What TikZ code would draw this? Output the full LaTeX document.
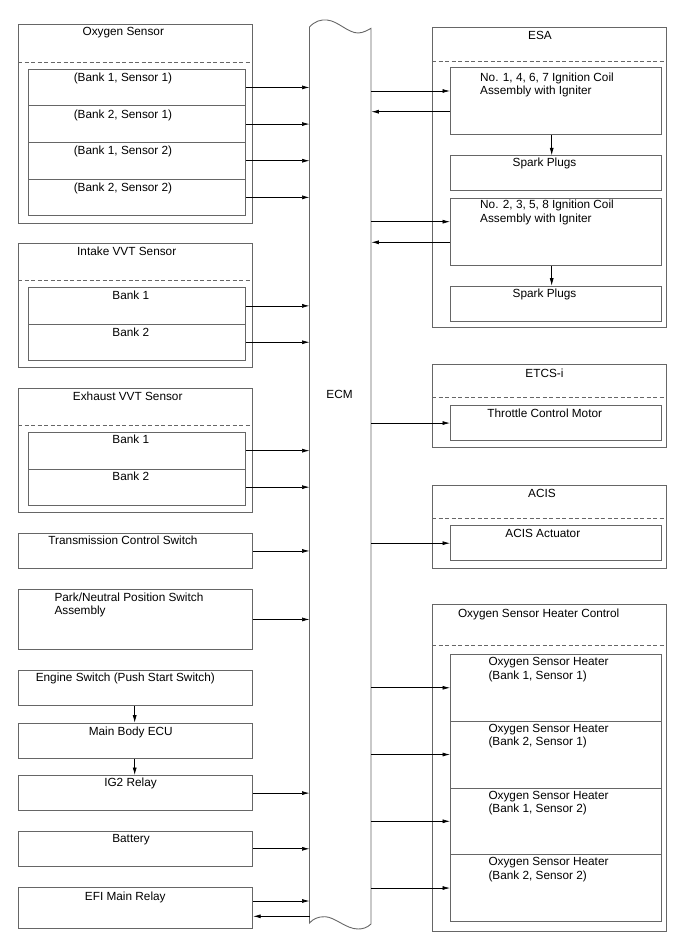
\documentclass[tikz,border=0pt]{standalone}
\usepackage{fontspec}
\setmainfont{Liberation Sans}
\usetikzlibrary{arrows.meta}

\begin{document}
\begin{tikzpicture}[x=1pt, y=-1pt, font=\fontsize{11.8}{13.3}\selectfont, >={Latex[length=7.5pt,width=4pt]},
      grp/.style={draw=black!60, line width=0.9pt, inner sep=0, anchor=north west, minimum width=234.1},
      unit/.style={grp, line width=0.8pt, minimum width=217},
      runit/.style={unit, minimum width=211},
      body/.style={draw=black!60, line width=0.9pt},
      sep/.style={draw=black!60, line width=0.8pt, dash pattern=on 4pt off 2.5pt},
      lbl/.style={anchor=base, inner sep=0},
      lbll/.style={anchor=base west, inner sep=0, align=left},
      sig/.style={->, line width=0.7pt}]
    \useasboundingbox (0,0) rectangle (688,949);

    \node[grp, minimum height=198.4] (o2) at (18.2,24.3) {};
    \draw[sep] (18.2,62) -- (252.3,62);
    \node[lbl] (o2t) at (123.3,35.7) {Oxygen Sensor};
    \node[unit, minimum height=36.65] (o2a) at (28.3,68.7) {};
    \node[unit, minimum height=36.65] (o2b) at (28.3,105.35) {};
    \node[unit, minimum height=36.65] (o2c) at (28.3,142) {};
    \node[unit, minimum height=36.65] (o2d) at (28.3,178.65) {};
    \node[lbl] (o2at) at (123,81.7) {(Bank 1, Sensor 1)};
    \node[lbl] (o2bt) at (123,118.4) {(Bank 2, Sensor 1)};
    \node[lbl] (o2ct) at (123,155) {(Bank 1, Sensor 2)};
    \node[lbl] (o2dt) at (123,191.7) {(Bank 2, Sensor 2)};

    \node[grp, minimum height=123.4] (in) at (18.2,243.3) {};
    \draw[sep] (18.2,280.7) -- (252.3,280.7);
    \node[lbl] (int) at (126.7,255.7) {Intake VVT Sensor};
    \node[unit, minimum height=36.35] (ina) at (28.3,287.3) {};
    \node[unit, minimum height=36.35] (inb) at (28.3,323.65) {};
    \node[lbl] (inat) at (130.8,299.3) {Bank 1};
    \node[lbl] (inbt) at (130.8,336.5) {Bank 2};

    \node[grp, minimum height=123.7] (ex) at (18.2,388.3) {};
    \draw[sep] (18.2,425.3) -- (252.3,425.3);
    \node[lbl] (ext) at (127.7,400.7) {Exhaust VVT Sensor};
    \node[unit, minimum height=36.5] (exa) at (28.3,432) {};
    \node[unit, minimum height=36.5] (exb) at (28.3,468.5) {};
    \node[lbl] (exat) at (130.8,443.5) {Bank 1};
    \node[lbl] (exbt) at (130.8,480.7) {Bank 2};

    \node[grp, minimum height=35.6] (tcs) at (18.2,532.7) {};
    \node[lbl] (tcst) at (123,544.3) {Transmission Control Switch};
    \node[grp, minimum height=60.6] (pnp) at (18.2,588.7) {};
    \node[lbll] (pnpt) at (54.3,614.3) {Park/Neutral Position Switch\\Assembly};
    \node[grp, minimum height=35.3] (eng) at (18.2,670) {};
    \node[lbl] (engt) at (125.3,681.7) {Engine Switch (Push Start Switch)};
    \node[grp, minimum height=35.6] (mb) at (18.2,722.7) {};
    \node[lbl] (mbt) at (130.8,735) {Main Body ECU};
    \node[grp, minimum height=35.3] (ig2) at (18.2,775) {};
    \node[lbl] (ig2t) at (130.5,786.7) {IG2 Relay};
    \node[grp, minimum height=35.3] (bat) at (18.2,830.7) {};
    \node[lbl] (batt) at (131,842.7) {Battery};
    \node[grp, minimum height=41.6] (efi) at (18.2,886.7) {};
    \node[lbl] (efit) at (125.3,900) {EFI Main Relay};

    \node[inner sep=0, minimum width=61.5, minimum height=896, anchor=north west] (ecm) at (309.5,27) {};
    \draw[body] (309.5,27) -- (309.5,923)
      .. controls (313,919) and (318,916.5) .. (325,916.7)
      .. controls (335,917) and (346,929) .. (358,929)
      .. controls (362,929) and (367,928) .. (371,924)
      -- (371,28.3)
      .. controls (368,30) and (363,33) .. (358,33)
      .. controls (348,33) and (338,21) .. (327,20)
      .. controls (321,19.5) and (315,21) .. cycle;
    \node[lbl] (ecmt) at (339.5,398.3) {ECM};

    \node[grp, minimum width=234, minimum height=300] (esa) at (432,27.3) {};
    \draw[sep] (432,61) -- (666,61);
    \node[lbl] (esat) at (540,39.3) {ESA};
    \node[runit, minimum height=67] (c1) at (450,67.3) {};
    \node[lbll] (c1t) at (480,95) {No. 1, 4, 6, 7 Ignition Coil\\Assembly with Igniter};
    \node[runit, minimum height=35] (sp1) at (450,155.3) {};
    \node[lbl] (sp1t) at (544.5,166.7) {Spark Plugs};
    \node[runit, minimum height=67.3] (c2) at (450,197.7) {};
    \node[lbll] (c2t) at (480,222.3) {No. 2, 3, 5, 8 Ignition Coil\\Assembly with Igniter};
    \node[runit, minimum height=35] (sp2) at (450,285.7) {};
    \node[lbl] (sp2t) at (544.5,297.3) {Spark Plugs};

    \node[grp, minimum width=234, minimum height=83] (etcs) at (432,364.3) {};
    \draw[sep] (432,397.7) -- (666,397.7);
    \node[lbl] (etcst) at (544.5,377.3) {ETCS-i};
    \node[runit, minimum height=34.7] (thr) at (450,405.3) {};
    \node[lbl] (thrt) at (544.7,417) {Throttle Control Motor};

    \node[grp, minimum width=234, minimum height=83.6] (acis) at (432,484.7) {};
    \draw[sep] (432,518) -- (666,518);
    \node[lbl] (acist) at (542,497) {ACIS};
    \node[runit, minimum height=35] (act) at (450,525.3) {};
    \node[lbl] (actt) at (542.8,537) {ACIS Actuator};

    \node[grp, minimum width=234, minimum height=326.4] (htr) at (432,604.3) {};
    \draw[sep] (432,645.3) -- (666,645.3);
    \node[lbl] (htrt) at (538.7,617.3) {Oxygen Sensor Heater Control};
    \node[runit, minimum height=66.75] (h1) at (450,654) {};
    \node[runit, minimum height=66.75] (h2) at (450,720.75) {};
    \node[runit, minimum height=66.75] (h3) at (450,787.5) {};
    \node[runit, minimum height=66.75] (h4) at (450,854.25) {};
    \node[lbll] (h1t) at (488.3,679) {Oxygen Sensor Heater\\(Bank 1, Sensor 1)};
    \node[lbll] (h2t) at (488.3,745.7) {Oxygen Sensor Heater\\(Bank 2, Sensor 1)};
    \node[lbll] (h3t) at (488.3,812.4) {Oxygen Sensor Heater\\(Bank 1, Sensor 2)};
    \node[lbll] (h4t) at (488.3,879.1) {Oxygen Sensor Heater\\(Bank 2, Sensor 2)};

    \draw[sig] (o2a.east) -- (o2a.east -| ecm.west);
    \draw[sig] (o2b.east) -- (o2b.east -| ecm.west);
    \draw[sig] (o2c.east) -- (o2c.east -| ecm.west);
    \draw[sig] (o2d.east) -- (o2d.east -| ecm.west);
    \draw[sig] (ina.east) -- (ina.east -| ecm.west);
    \draw[sig] (inb.east) -- (inb.east -| ecm.west);
    \draw[sig] (exa.east) -- (exa.east -| ecm.west);
    \draw[sig] (exb.east) -- (exb.east -| ecm.west);
    \draw[sig] (tcs.east) -- (tcs.east -| ecm.west);
    \draw[sig] (pnp.east) -- (pnp.east -| ecm.west);
    \draw[sig] (eng.south -| 134.7,0) -- (mb.north -| 134.7,0);
    \draw[sig] (mb.south -| 134.7,0) -- (ig2.north -| 134.7,0);
    \draw[sig] (ig2.east) -- (ig2.east -| ecm.west);
    \draw[sig] (bat.east) -- (bat.east -| ecm.west);
    \draw[sig] (efi.east |- 0,901) -- (ecm.west |- 0,901);
    \draw[sig] (ecm.west |- 0,916.3) -- (efi.east |- 0,916.3);

    \draw[sig] (ecm.east |- 0,91) -- (c1.west |- 0,91);
    \draw[sig] (c1.west |- 0,111.7) -- (ecm.east |- 0,111.7);
    \draw[sig] (c1.south -| 551.7,0) -- (sp1.north -| 551.7,0);
    \draw[sig] (ecm.east |- 0,221.7) -- (c2.west |- 0,221.7);
    \draw[sig] (c2.west |- 0,242.3) -- (ecm.east |- 0,242.3);
    \draw[sig] (c2.south -| 551.7,0) -- (sp2.north -| 551.7,0);
    \draw[sig] (ecm.east |- thr.west) -- (thr.west);
    \draw[sig] (ecm.east |- act.west) -- (act.west);
    \draw[sig] (ecm.east |- h1.west) -- (h1.west);
    \draw[sig] (ecm.east |- h2.west) -- (h2.west);
    \draw[sig] (ecm.east |- h3.west) -- (h3.west);
    \draw[sig] (ecm.east |- h4.west) -- (h4.west);
  \end{tikzpicture}
\end{document}
